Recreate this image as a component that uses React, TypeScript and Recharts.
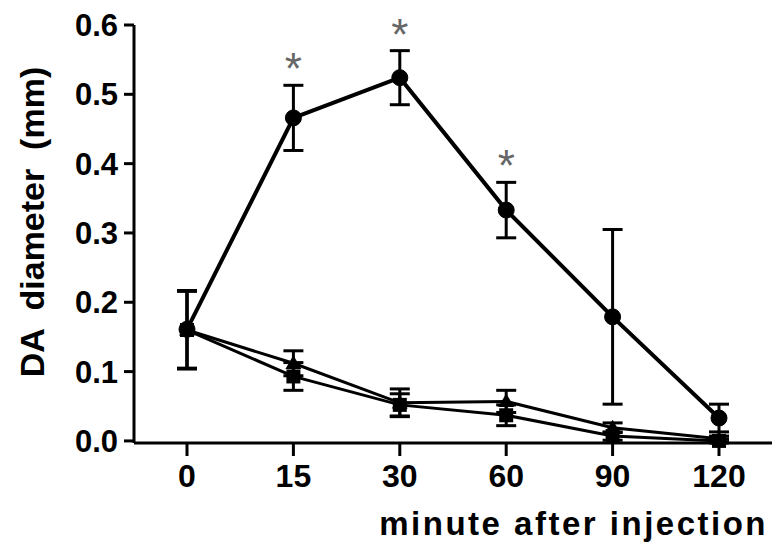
import React from "react";
import {
  LineChart,
  Line,
  XAxis,
  YAxis,
  ErrorBar,
  LabelList,
} from "recharts";

const minutes = ["0", "15", "30", "60", "90", "120"];
const yTicks = [0, 0.1, 0.2, 0.3, 0.4, 0.5, 0.6];

// treated group (circles)
const treated = [0.161, 0.466, 0.524, 0.333, 0.179, 0.033];
const treatedSem = [0.056, 0.047, 0.039, 0.04, 0.126, 0.02];
const significant = ["", "*", "*", "*", "", ""];

// the two control groups
const controlA = [0.16, 0.112, 0.055, 0.057, 0.019, 0.003];
const controlASem = [0.056, 0.018, 0.02, 0.016, 0.007, 0.004];
const controlB = [0.16, 0.093, 0.052, 0.037, 0.007, 0.0];
const controlBSem = [0.056, 0.02, 0.016, 0.015, 0.006, 0.003];

const data = minutes.map((m, i) => ({
  minute: m,
  treated: treated[i],
  treatedSem: treatedSem[i],
  sig: significant[i],
  controlA: controlA[i],
  controlASem: controlASem[i],
  controlB: controlB[i],
  controlBSem: controlBSem[i],
}));

const FONT = "'Liberation Sans', Arial, Helvetica, sans-serif";

const TriangleDot = (props: any) => {
  const { cx, cy } = props;
  if (cx == null || cy == null) return null;
  const s = 8;
  return (
    <path
      d={`M${cx},${cy - s} L${cx + s},${cy + s * 0.7} L${cx - s},${cy + s * 0.7} Z`}
      fill="#000"
    />
  );
};

const SquareDot = (props: any) => {
  const { cx, cy } = props;
  if (cx == null || cy == null) return null;
  return <rect x={cx - 7} y={cy - 7} width={14} height={14} fill="#000" />;
};

const Star = (props: any) => {
  const { x, y, value } = props;
  if (!value) return null;
  return (
    <text
      x={x}
      y={y - 1}
      textAnchor="middle"
      fontFamily={FONT}
      fontSize={44}
      fill="#666"
    >
      {value}
    </text>
  );
};

export default function App() {
  return (
    <div style={{ position: "absolute", left: 0, top: 0, width: 775, height: 550, background: "#fff" }}>
      <LineChart
        width={775}
        height={550}
        data={data}
        margin={{ top: 25, right: 3, left: 0, bottom: 0 }}
      >
        <XAxis
          dataKey="minute"
          height={107}
          padding={{ left: 53, right: 53 }}
          stroke="#000"
          strokeWidth={3}
          tickSize={13}
          tickMargin={8}
          tick={{ fill: "#000", fontSize: 32, fontWeight: "bold", fontFamily: FONT }}
          label={{
            content: () => (
              <text
                x={768}
                y={535}
                textAnchor="end"
                fontFamily={FONT}
                fontWeight="bold"
                fontSize={33}
                letterSpacing={2.5}
                fill="#000"
              >
                minute after injection
              </text>
            ),
          }}
        />
        <YAxis
          width={134}
          domain={[0, 0.6]}
          ticks={yTicks}
          tickFormatter={(v: number) => v.toFixed(1)}
          stroke="#000"
          strokeWidth={3}
          tickSize={10}
          tickMargin={6}
          tick={{ fill: "#000", fontSize: 31, fontWeight: "bold", fontFamily: FONT }}
          label={{
            content: () => (
              <text
                transform="translate(44,222) rotate(-90)"
                textAnchor="middle"
                fontFamily={FONT}
                fontWeight="bold"
                fontSize={34}
                fill="#000"
                style={{ whiteSpace: "pre" }}
              >
                {"DA  diameter  (mm)"}
              </text>
            ),
          }}
        />
        <Line
          dataKey="controlB"
          stroke="#000"
          strokeWidth={3}
          dot={<SquareDot />}
          isAnimationActive={false}
        >
          <ErrorBar dataKey="controlBSem" width={10} stroke="#000" strokeWidth={3} direction="y" />
        </Line>
        <Line
          dataKey="controlA"
          stroke="#000"
          strokeWidth={3}
          dot={<TriangleDot />}
          isAnimationActive={false}
        >
          <ErrorBar dataKey="controlASem" width={10} stroke="#000" strokeWidth={3} direction="y" />
        </Line>
        <Line
          dataKey="treated"
          stroke="#000"
          strokeWidth={4}
          dot={{ r: 8, fill: "#000", stroke: "#000", strokeWidth: 1 }}
          isAnimationActive={false}
        >
          <ErrorBar dataKey="treatedSem" width={10} stroke="#000" strokeWidth={3} direction="y" />
        </Line>
        {/* invisible line at the top of each error bar, carries the asterisks */}
        <Line
          dataKey={(d: any) => d.treated + d.treatedSem}
          stroke="none"
          dot={false}
          activeDot={false}
          isAnimationActive={false}
        >
          <LabelList dataKey="sig" content={<Star />} />
        </Line>
      </LineChart>
    </div>
  );
}
